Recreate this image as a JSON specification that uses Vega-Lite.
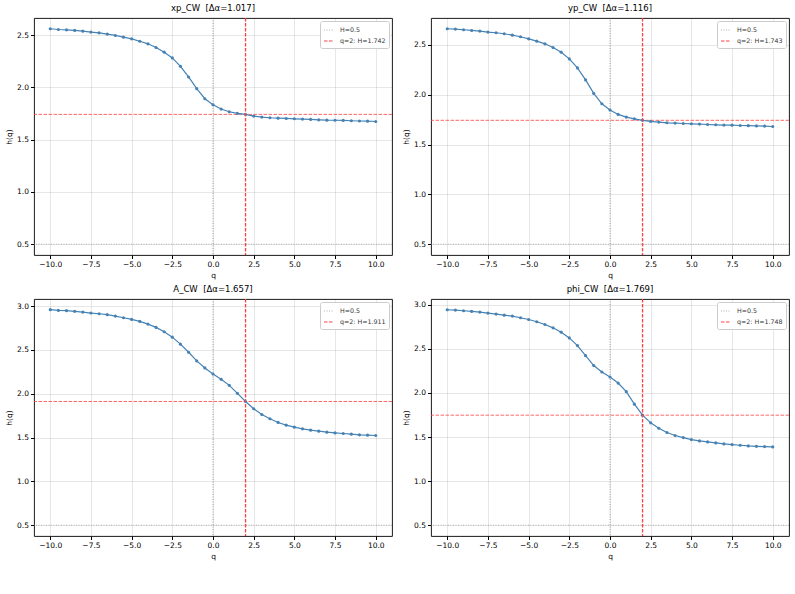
{
  "$schema": "https://vega.github.io/schema/vega-lite/v6.json",
  "padding": {"left": 5, "top": 3, "right": 5, "bottom": 5},
  "background": "white",
  "config": {
    "font": "DejaVu Sans",
    "view": {"stroke": "#000", "strokeWidth": 0.9},
    "axis": {"labelFontSize": 7.5, "titleFontSize": 7.5, "titleFontWeight": "normal", "tickSize": 3.5, "tickColor": "#000", "labelColor": "#000", "titleColor": "#000", "domain": false, "gridColor": "#000", "gridOpacity": 0.12, "gridWidth": 0.8, "labelPadding": 2, "titlePadding": 3},
    "title": {"fontSize": 8.5, "fontWeight": "normal", "offset": 5, "color": "#000"},
    "legend": {"orient": "top-right", "offset": 3, "padding": 3, "fillColor": "white", "strokeColor": "#ccc", "cornerRadius": 2, "labelFontSize": 6.3, "symbolType": "stroke", "symbolSize": 100, "symbolStrokeWidth": 1.2, "rowPadding": 1, "title": null, "labelColor": "#333", "labelOffset": 5},
    "concat": {"spacing": 10}
  },
  "datasets": {
    "xp": [
      {"q": -10, "h": 2.561}, {"q": -9.5, "h": 2.554}, {"q": -9, "h": 2.551}, {"q": -8.5, "h": 2.545}, {"q": -8, "h": 2.538}, {"q": -7.5, "h": 2.529}, {"q": -7, "h": 2.522}, {"q": -6.5, "h": 2.51}, {"q": -6, "h": 2.497}, {"q": -5.5, "h": 2.481}, {"q": -5, "h": 2.465}, {"q": -4.5, "h": 2.442}, {"q": -4, "h": 2.417}, {"q": -3.5, "h": 2.382}, {"q": -3, "h": 2.337}, {"q": -2.5, "h": 2.282}, {"q": -2, "h": 2.202}, {"q": -1.5, "h": 2.1}, {"q": -1, "h": 1.988}, {"q": -0.5, "h": 1.892}, {"q": 0, "h": 1.834}, {"q": 0.5, "h": 1.793}, {"q": 1, "h": 1.767}, {"q": 1.5, "h": 1.751}, {"q": 2, "h": 1.742}, {"q": 2.5, "h": 1.726}, {"q": 3, "h": 1.716}, {"q": 3.5, "h": 1.71}, {"q": 4, "h": 1.706}, {"q": 4.5, "h": 1.703}, {"q": 5, "h": 1.7}, {"q": 5.5, "h": 1.697}, {"q": 6, "h": 1.694}, {"q": 6.5, "h": 1.69}, {"q": 7, "h": 1.687}, {"q": 7.5, "h": 1.686}, {"q": 8, "h": 1.684}, {"q": 8.5, "h": 1.681}, {"q": 9, "h": 1.679}, {"q": 9.5, "h": 1.677}, {"q": 10, "h": 1.674}
    ],
    "yp": [
      {"q": -10, "h": 2.661}, {"q": -9.5, "h": 2.658}, {"q": -9, "h": 2.651}, {"q": -8.5, "h": 2.644}, {"q": -8, "h": 2.638}, {"q": -7.5, "h": 2.628}, {"q": -7, "h": 2.621}, {"q": -6.5, "h": 2.611}, {"q": -6, "h": 2.597}, {"q": -5.5, "h": 2.581}, {"q": -5, "h": 2.56}, {"q": -4.5, "h": 2.537}, {"q": -4, "h": 2.51}, {"q": -3.5, "h": 2.473}, {"q": -3, "h": 2.426}, {"q": -2.5, "h": 2.359}, {"q": -2, "h": 2.268}, {"q": -1.5, "h": 2.148}, {"q": -1, "h": 2.013}, {"q": -0.5, "h": 1.909}, {"q": 0, "h": 1.846}, {"q": 0.5, "h": 1.802}, {"q": 1, "h": 1.775}, {"q": 1.5, "h": 1.758}, {"q": 2, "h": 1.743}, {"q": 2.5, "h": 1.732}, {"q": 3, "h": 1.725}, {"q": 3.5, "h": 1.718}, {"q": 4, "h": 1.715}, {"q": 4.5, "h": 1.711}, {"q": 5, "h": 1.708}, {"q": 5.5, "h": 1.705}, {"q": 6, "h": 1.701}, {"q": 6.5, "h": 1.698}, {"q": 7, "h": 1.695}, {"q": 7.5, "h": 1.694}, {"q": 8, "h": 1.691}, {"q": 8.5, "h": 1.689}, {"q": 9, "h": 1.687}, {"q": 9.5, "h": 1.685}, {"q": 10, "h": 1.681}
    ],
    "A": [
      {"q": -10, "h": 2.958}, {"q": -9.5, "h": 2.95}, {"q": -9, "h": 2.947}, {"q": -8.5, "h": 2.939}, {"q": -8, "h": 2.931}, {"q": -7.5, "h": 2.92}, {"q": -7, "h": 2.912}, {"q": -6.5, "h": 2.901}, {"q": -6, "h": 2.885}, {"q": -5.5, "h": 2.866}, {"q": -5, "h": 2.847}, {"q": -4.5, "h": 2.824}, {"q": -4, "h": 2.794}, {"q": -3.5, "h": 2.756}, {"q": -3, "h": 2.706}, {"q": -2.5, "h": 2.645}, {"q": -2, "h": 2.565}, {"q": -1.5, "h": 2.473}, {"q": -1, "h": 2.374}, {"q": -0.5, "h": 2.294}, {"q": 0, "h": 2.225}, {"q": 0.5, "h": 2.164}, {"q": 1, "h": 2.095}, {"q": 1.5, "h": 2.004}, {"q": 2, "h": 1.911}, {"q": 2.5, "h": 1.828}, {"q": 3, "h": 1.763}, {"q": 3.5, "h": 1.714}, {"q": 4, "h": 1.672}, {"q": 4.5, "h": 1.641}, {"q": 5, "h": 1.618}, {"q": 5.5, "h": 1.599}, {"q": 6, "h": 1.584}, {"q": 6.5, "h": 1.573}, {"q": 7, "h": 1.561}, {"q": 7.5, "h": 1.553}, {"q": 8, "h": 1.546}, {"q": 8.5, "h": 1.538}, {"q": 9, "h": 1.531}, {"q": 9.5, "h": 1.527}, {"q": 10, "h": 1.523}
    ],
    "phi": [
      {"q": -10, "h": 2.943}, {"q": -9.5, "h": 2.939}, {"q": -9, "h": 2.932}, {"q": -8.5, "h": 2.924}, {"q": -8, "h": 2.917}, {"q": -7.5, "h": 2.905}, {"q": -7, "h": 2.894}, {"q": -6.5, "h": 2.882}, {"q": -6, "h": 2.871}, {"q": -5.5, "h": 2.852}, {"q": -5, "h": 2.833}, {"q": -4.5, "h": 2.807}, {"q": -4, "h": 2.776}, {"q": -3.5, "h": 2.738}, {"q": -3, "h": 2.689}, {"q": -2.5, "h": 2.624}, {"q": -2, "h": 2.537}, {"q": -1.5, "h": 2.423}, {"q": -1, "h": 2.31}, {"q": -0.5, "h": 2.237}, {"q": 0, "h": 2.181}, {"q": 0.5, "h": 2.112}, {"q": 1, "h": 2.014}, {"q": 1.5, "h": 1.873}, {"q": 2, "h": 1.748}, {"q": 2.5, "h": 1.661}, {"q": 3, "h": 1.6}, {"q": 3.5, "h": 1.551}, {"q": 4, "h": 1.517}, {"q": 4.5, "h": 1.494}, {"q": 5, "h": 1.471}, {"q": 5.5, "h": 1.456}, {"q": 6, "h": 1.445}, {"q": 6.5, "h": 1.433}, {"q": 7, "h": 1.422}, {"q": 7.5, "h": 1.414}, {"q": 8, "h": 1.407}, {"q": 8.5, "h": 1.399}, {"q": 9, "h": 1.395}, {"q": 9.5, "h": 1.392}, {"q": 10, "h": 1.388}
    ]
  },
  "columns": 2,
  "spacing": {"row": 5, "column": 9},
  "resolve": {"scale": {"x": "independent", "y": "independent", "color": "independent", "strokeDash": "independent"}, "legend": {"color": "independent", "strokeDash": "independent"}},
  "concat": [
    {
      "title": "xp_CW\u00a0\u00a0[Δα=1.017]",
      "width": 358, "height": 237,
      "layer": [
        {"data": {"values": [{"q": 0}]}, "mark": {"type": "rule", "color": "#444", "strokeDash": [1, 1.5], "strokeWidth": 0.6, "opacity": 0.8}, "encoding": {"x": {"field": "q", "type": "quantitative", "scale": {"domain": [-11, 11], "nice": false}, "axis": {"values": [-10, -7.5, -5, -2.5, 0, 2.5, 5, 7.5, 10], "format": ".1f", "title": "q"}}}},
        {"data": {"values": [{"hr": 1.742, "lab": "q=2: H=1.742"}]}, "mark": {"type": "rule", "strokeWidth": 0.8}, "encoding": {"y": {"field": "hr", "type": "quantitative", "scale": {"domain": [0.397, 2.664], "nice": false, "zero": false}, "axis": {"values": [0.5, 1.0, 1.5, 2.0, 2.5], "format": ".1f", "title": "h(q)"}}, "color": {"field": "lab", "type": "nominal", "scale": {"domain": ["H=0.5", "q=2: H=1.742"], "range": ["#b0b0b0", "#ff4040"]}}, "strokeDash": {"field": "lab", "type": "nominal", "scale": {"domain": ["H=0.5", "q=2: H=1.742"], "range": [[1, 1.5], [3.5, 1.5]]}}}},
        {"data": {"name": "xp"}, "mark": {"type": "line", "color": "#4682b4", "strokeWidth": 1.2, "point": {"filled": true, "size": 10, "color": "#4682b4"}}, "encoding": {"x": {"field": "q", "type": "quantitative"}, "y": {"field": "h", "type": "quantitative"}}},
        {"data": {"values": [{"h0": 0.5, "lab": "H=0.5"}]}, "mark": {"type": "rule", "strokeWidth": 1}, "encoding": {"y": {"field": "h0", "type": "quantitative"}, "color": {"field": "lab", "type": "nominal"}, "strokeDash": {"field": "lab", "type": "nominal"}}},
        {"data": {"values": [{"q": 2, "lab": "q=2: H=1.742"}]}, "mark": {"type": "rule", "strokeWidth": 1.3}, "encoding": {"x": {"field": "q", "type": "quantitative"}, "color": {"field": "lab", "type": "nominal"}, "strokeDash": {"field": "lab", "type": "nominal"}}}
      ]
    },
    {
      "title": "yp_CW\u00a0\u00a0[Δα=1.116]",
      "width": 358, "height": 237,
      "layer": [
        {"data": {"values": [{"q": 0}]}, "mark": {"type": "rule", "color": "#444", "strokeDash": [1, 1.5], "strokeWidth": 0.6, "opacity": 0.8}, "encoding": {"x": {"field": "q", "type": "quantitative", "scale": {"domain": [-11, 11], "nice": false}, "axis": {"values": [-10, -7.5, -5, -2.5, 0, 2.5, 5, 7.5, 10], "format": ".1f", "title": "q"}}}},
        {"data": {"values": [{"hr": 1.743, "lab": "q=2: H=1.743"}]}, "mark": {"type": "rule", "strokeWidth": 0.8}, "encoding": {"y": {"field": "hr", "type": "quantitative", "scale": {"domain": [0.392, 2.769], "nice": false, "zero": false}, "axis": {"values": [0.5, 1.0, 1.5, 2.0, 2.5], "format": ".1f", "title": "h(q)"}}, "color": {"field": "lab", "type": "nominal", "scale": {"domain": ["H=0.5", "q=2: H=1.743"], "range": ["#b0b0b0", "#ff4040"]}}, "strokeDash": {"field": "lab", "type": "nominal", "scale": {"domain": ["H=0.5", "q=2: H=1.743"], "range": [[1, 1.5], [3.5, 1.5]]}}}},
        {"data": {"name": "yp"}, "mark": {"type": "line", "color": "#4682b4", "strokeWidth": 1.2, "point": {"filled": true, "size": 10, "color": "#4682b4"}}, "encoding": {"x": {"field": "q", "type": "quantitative"}, "y": {"field": "h", "type": "quantitative"}}},
        {"data": {"values": [{"h0": 0.5, "lab": "H=0.5"}]}, "mark": {"type": "rule", "strokeWidth": 1}, "encoding": {"y": {"field": "h0", "type": "quantitative"}, "color": {"field": "lab", "type": "nominal"}, "strokeDash": {"field": "lab", "type": "nominal"}}},
        {"data": {"values": [{"q": 2, "lab": "q=2: H=1.743"}]}, "mark": {"type": "rule", "strokeWidth": 1.3}, "encoding": {"x": {"field": "q", "type": "quantitative"}, "color": {"field": "lab", "type": "nominal"}, "strokeDash": {"field": "lab", "type": "nominal"}}}
      ]
    },
    {
      "title": "A_CW\u00a0\u00a0[Δα=1.657]",
      "width": 358, "height": 237,
      "layer": [
        {"data": {"values": [{"q": 0}]}, "mark": {"type": "rule", "color": "#444", "strokeDash": [1, 1.5], "strokeWidth": 0.6, "opacity": 0.8}, "encoding": {"x": {"field": "q", "type": "quantitative", "scale": {"domain": [-11, 11], "nice": false}, "axis": {"values": [-10, -7.5, -5, -2.5, 0, 2.5, 5, 7.5, 10], "format": ".1f", "title": "q"}}}},
        {"data": {"values": [{"hr": 1.911, "lab": "q=2: H=1.911"}]}, "mark": {"type": "rule", "strokeWidth": 0.8}, "encoding": {"y": {"field": "hr", "type": "quantitative", "scale": {"domain": [0.377, 3.08], "nice": false, "zero": false}, "axis": {"values": [0.5, 1.0, 1.5, 2.0, 2.5, 3.0], "format": ".1f", "title": "h(q)"}}, "color": {"field": "lab", "type": "nominal", "scale": {"domain": ["H=0.5", "q=2: H=1.911"], "range": ["#b0b0b0", "#ff4040"]}}, "strokeDash": {"field": "lab", "type": "nominal", "scale": {"domain": ["H=0.5", "q=2: H=1.911"], "range": [[1, 1.5], [3.5, 1.5]]}}}},
        {"data": {"name": "A"}, "mark": {"type": "line", "color": "#4682b4", "strokeWidth": 1.2, "point": {"filled": true, "size": 10, "color": "#4682b4"}}, "encoding": {"x": {"field": "q", "type": "quantitative"}, "y": {"field": "h", "type": "quantitative"}}},
        {"data": {"values": [{"h0": 0.5, "lab": "H=0.5"}]}, "mark": {"type": "rule", "strokeWidth": 1}, "encoding": {"y": {"field": "h0", "type": "quantitative"}, "color": {"field": "lab", "type": "nominal"}, "strokeDash": {"field": "lab", "type": "nominal"}}},
        {"data": {"values": [{"q": 2, "lab": "q=2: H=1.911"}]}, "mark": {"type": "rule", "strokeWidth": 1.3}, "encoding": {"x": {"field": "q", "type": "quantitative"}, "color": {"field": "lab", "type": "nominal"}, "strokeDash": {"field": "lab", "type": "nominal"}}}
      ]
    },
    {
      "title": "phi_CW\u00a0\u00a0[Δα=1.769]",
      "width": 358, "height": 237,
      "layer": [
        {"data": {"values": [{"q": 0}]}, "mark": {"type": "rule", "color": "#444", "strokeDash": [1, 1.5], "strokeWidth": 0.6, "opacity": 0.8}, "encoding": {"x": {"field": "q", "type": "quantitative", "scale": {"domain": [-11, 11], "nice": false}, "axis": {"values": [-10, -7.5, -5, -2.5, 0, 2.5, 5, 7.5, 10], "format": ".1f", "title": "q"}}}},
        {"data": {"values": [{"hr": 1.748, "lab": "q=2: H=1.748"}]}, "mark": {"type": "rule", "strokeWidth": 0.8}, "encoding": {"y": {"field": "hr", "type": "quantitative", "scale": {"domain": [0.378, 3.065], "nice": false, "zero": false}, "axis": {"values": [0.5, 1.0, 1.5, 2.0, 2.5, 3.0], "format": ".1f", "title": "h(q)"}}, "color": {"field": "lab", "type": "nominal", "scale": {"domain": ["H=0.5", "q=2: H=1.748"], "range": ["#b0b0b0", "#ff4040"]}}, "strokeDash": {"field": "lab", "type": "nominal", "scale": {"domain": ["H=0.5", "q=2: H=1.748"], "range": [[1, 1.5], [3.5, 1.5]]}}}},
        {"data": {"name": "phi"}, "mark": {"type": "line", "color": "#4682b4", "strokeWidth": 1.2, "point": {"filled": true, "size": 10, "color": "#4682b4"}}, "encoding": {"x": {"field": "q", "type": "quantitative"}, "y": {"field": "h", "type": "quantitative"}}},
        {"data": {"values": [{"h0": 0.5, "lab": "H=0.5"}]}, "mark": {"type": "rule", "strokeWidth": 1}, "encoding": {"y": {"field": "h0", "type": "quantitative"}, "color": {"field": "lab", "type": "nominal"}, "strokeDash": {"field": "lab", "type": "nominal"}}},
        {"data": {"values": [{"q": 2, "lab": "q=2: H=1.748"}]}, "mark": {"type": "rule", "strokeWidth": 1.3}, "encoding": {"x": {"field": "q", "type": "quantitative"}, "color": {"field": "lab", "type": "nominal"}, "strokeDash": {"field": "lab", "type": "nominal"}}}
      ]
    }
  ]
}
